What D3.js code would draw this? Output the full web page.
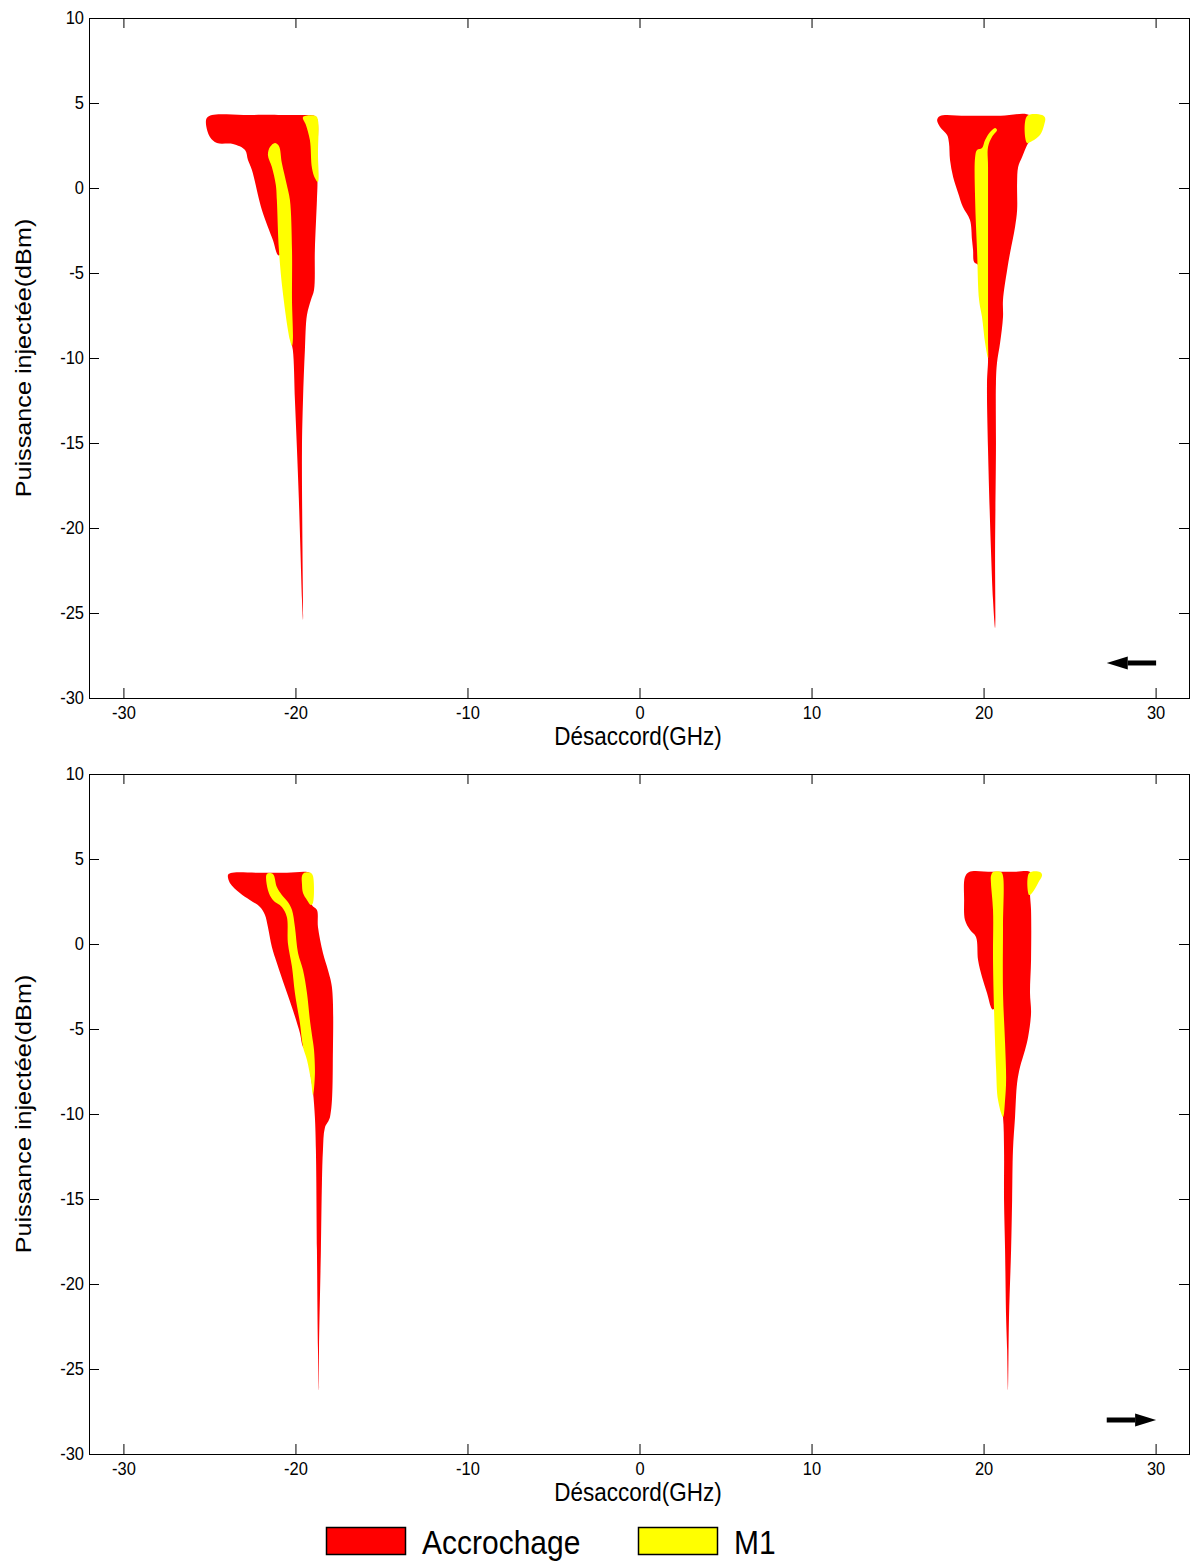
<!DOCTYPE html>
<html><head><meta charset="utf-8">
<script src="https://cdn.jsdelivr.net/npm/d3@7"></script>
<style>body{margin:0;background:#fff}svg{display:block}</style>
</head><body>
<svg id="chart" width="1190" height="1562"></svg>
<script>
// ---------- data ----------
const detuningTicks = [-30, -20, -10, 0, 10, 20, 30];
const powerTicks = [-30, -25, -20, -15, -10, -5, 0, 5, 10];
const xLabel = "Désaccord(GHz)";
const yLabel = "Puissance injectée(dBm)";
const seriesNames = ["Accrochage", "M1"];

// outlines of the regions, [detuning GHz, injected power dBm]
const topLeftAccrochage = [[-25.15,4.12],[-24.85,4.29],[-23.0,4.30],[-21.0,4.30],[-19.74,4.29],[-18.87,4.24],[-18.72,4.0],[-18.72,2.0],[-18.72,0.18],[-18.75,-0.71],[-18.87,-3.65],[-18.92,-6.0],[-19.10,-6.59],[-19.33,-7.47],[-19.45,-9.53],[-19.56,-12.47],[-19.62,-15.41],[-19.59,-21.29],[-19.56,-25.41],[-19.62,-24.24],[-19.71,-21.29],[-19.80,-18.35],[-19.91,-15.41],[-20.03,-12.47],[-20.15,-9.53],[-20.27,-8.94],[-20.56,-6.59],[-20.85,-4.0],[-21.02,-3.94],[-21.31,-3.06],[-21.95,-1.29],[-22.53,1.06],[-22.76,1.65],[-22.93,2.24],[-23.63,2.59],[-24.56,2.65],[-24.97,3.0],[-25.20,3.76]];
const topLeftM1Inner = [[-21.19,2.65],[-20.96,2.47],[-20.79,1.47],[-20.50,0.18],[-20.32,-0.71],[-20.20,-3.65],[-20.20,-6.59],[-20.15,-8.94],[-20.20,-9.29],[-20.32,-8.94],[-20.73,-6.18],[-20.96,-3.65],[-21.08,-0.71],[-21.14,0.18],[-21.37,1.24],[-21.60,1.94],[-21.48,2.41]];
const topLeftM1Outer = [[-19.56,4.18],[-18.81,4.24],[-18.69,4.0],[-18.69,2.0],[-18.69,0.35],[-18.87,0.59],[-19.04,1.18],[-19.16,2.82],[-19.39,3.71]];

const topRightAccrochage = [[17.30,4.0],[17.47,4.24],[19.0,4.25],[21.0,4.25],[22.70,4.24],[22.70,2.82],[22.53,2.53],[22.24,1.82],[22.01,1.24],[21.95,0.29],[21.95,-1.29],[21.83,-2.29],[21.54,-3.82],[21.37,-4.82],[21.13,-6.59],[21.13,-7.59],[20.96,-9.12],[20.78,-10.29],[20.72,-11.47],[20.72,-15.41],[20.67,-21.29],[20.67,-25.88],[20.55,-24.24],[20.43,-21.29],[20.26,-15.41],[20.20,-11.47],[20.26,-10.0],[20.15,-8.35],[19.91,-6.59],[19.68,-4.53],[19.45,-4.35],[19.39,-3.65],[19.33,-3.06],[19.21,-1.88],[18.80,-1.12],[18.52,-0.29],[18.23,0.65],[18.05,1.65],[17.99,2.65],[17.88,3.12],[17.47,3.59]];
const topRightM1Inner = [[20.67,3.53],[20.78,3.41],[20.49,3.0],[20.26,2.41],[20.26,1.24],[20.26,-3.65],[20.26,-8.94],[20.26,-10.0],[20.09,-9.12],[19.91,-7.59],[19.74,-6.59],[19.62,-3.65],[19.51,-0.71],[19.51,1.82],[19.62,2.24],[19.91,2.35],[20.09,2.82],[20.38,3.29]];
const topRightM1Cap = [[22.53,4.24],[23.40,4.29],[23.58,4.12],[23.52,3.71],[23.28,3.12],[22.82,2.76],[22.53,2.65]];

const bottomLeftAccrochage = [[-23.92,4.06],[-23.76,4.18],[-22.0,4.19],[-20.5,4.19],[-19.16,4.18],[-19.04,3.88],[-19.04,2.29],[-18.75,2.0],[-18.69,1.0],[-18.40,-0.53],[-18.11,-1.53],[-17.88,-2.53],[-17.82,-6.24],[-17.99,-10.18],[-18.29,-10.82],[-18.40,-12.12],[-18.46,-14.06],[-18.52,-18.0],[-18.63,-23.88],[-18.63,-26.24],[-18.69,-23.88],[-18.75,-18.0],[-18.81,-12.12],[-18.87,-10.18],[-18.98,-8.71],[-19.16,-7.41],[-19.30,-6.35],[-19.56,-6.06],[-19.74,-5.24],[-20.15,-3.88],[-20.61,-2.53],[-21.08,-1.12],[-21.37,-0.18],[-21.60,1.0],[-21.77,1.71],[-22.06,2.18],[-22.65,2.59],[-23.23,3.0],[-23.81,3.59]];
const bottomLeftM1a = [[-21.66,4.12],[-21.31,4.12],[-21.08,3.35],[-20.79,2.88],[-20.44,2.47],[-20.20,2.0],[-20.03,1.0],[-19.85,-0.53],[-19.56,-1.53],[-19.33,-2.88],[-19.16,-4.47],[-19.04,-5.35],[-18.92,-6.24],[-18.87,-7.71],[-18.98,-8.88],[-19.10,-8.0],[-19.33,-6.82],[-19.56,-6.06],[-19.74,-4.65],[-20.03,-2.88],[-20.20,-1.35],[-20.44,0.06],[-20.50,1.59],[-20.79,2.18],[-21.31,2.59],[-21.60,3.18]];
const bottomLeftM1b = [[-19.62,4.0],[-19.50,4.18],[-19.10,4.18],[-18.98,4.0],[-18.98,2.41],[-19.10,2.29],[-19.33,2.59],[-19.56,3.0],[-19.62,3.53]];

const bottomRightAccrochage = [[18.92,3.94],[19.16,4.24],[20.5,4.25],[21.8,4.25],[22.70,4.24],[22.76,3.76],[22.70,3.0],[22.76,2.0],[22.76,-0.94],[22.70,-2.88],[22.76,-4.06],[22.59,-5.47],[22.41,-6.24],[22.12,-7.24],[21.95,-8.18],[21.83,-10.18],[21.71,-12.12],[21.66,-15.06],[21.60,-18.0],[21.48,-21.94],[21.42,-26.24],[21.37,-23.88],[21.31,-21.94],[21.25,-18.0],[21.19,-15.06],[21.19,-12.12],[21.13,-10.18],[20.90,-8.59],[20.73,-6.24],[20.63,-3.88],[20.49,-3.82],[20.20,-2.88],[19.91,-1.94],[19.68,-0.94],[19.56,0.41],[19.22,0.82],[18.92,1.41],[18.87,2.59]];
const bottomRightM1 = [[20.43,4.0],[20.55,4.24],[21.02,4.24],[21.13,4.0],[21.13,1.0],[21.13,-2.88],[21.25,-5.82],[21.31,-8.0],[21.25,-9.18],[21.13,-10.18],[20.84,-9.18],[20.73,-7.41],[20.67,-5.82],[20.61,-3.88],[20.55,-0.94],[20.55,2.0],[20.43,3.59]];
const bottomRightM1Cap = [[22.65,4.18],[23.28,4.24],[23.40,4.06],[23.17,3.59],[22.82,3.0],[22.65,2.88]];

// sweep direction arrows: [tail, head] in data units
const topArrow = [[30.03, -27.94], [27.16, -27.94]];
const bottomArrow = [[27.16, -28.0], [30.03, -28.0]];

// ---------- drawing ----------
const RED = "#ff0000", YELLOW = "#ffff00";
const FONT = "'Liberation Sans', Arial, Helvetica, sans-serif";
const STRETCH = 1.12;
const svg = d3.select("#chart");
const x = d3.scaleLinear().domain([-32, 32]).range([89, 1190]);

function panel(top, reds, yellows, arrow) {
  const y = d3.scaleLinear().domain([-30, 10]).range([top + 680, top]);
  const g = svg.append("g");
  const outline = d3.line().x(d => x(d[0])).y(d => y(d[1]))
    .curve(d3.curveCatmullRomClosed.alpha(0.5));
  g.selectAll("path.red").data(reds).join("path").attr("class", "red")
    .attr("d", outline).attr("fill", RED);
  g.selectAll("path.yellow").data(yellows).join("path").attr("class", "yellow")
    .attr("d", outline).attr("fill", YELLOW);

  const axB = g.append("g").attr("transform", `translate(0,${top + 680})`)
    .call(d3.axisBottom(x).tickValues(detuningTicks).tickSizeInner(-10).tickSizeOuter(0).tickPadding(7));
  const axT = g.append("g").attr("transform", `translate(0,${top})`)
    .call(d3.axisTop(x).tickValues(detuningTicks).tickSizeInner(-10).tickSizeOuter(0).tickFormat(""));
  const axL = g.append("g").attr("transform", `translate(89,0)`)
    .call(d3.axisLeft(y).tickValues(powerTicks).tickSizeInner(-10).tickSizeOuter(0).tickPadding(5));
  const axR = g.append("g").attr("transform", `translate(1189,0)`)
    .call(d3.axisRight(y).tickValues(powerTicks).tickSizeInner(-10).tickSizeOuter(0).tickFormat(""));
  [axB, axT, axL, axR].forEach(a => {
    a.selectAll("path.domain, line").attr("stroke", "#000");
    a.selectAll("text").attr("font-family", FONT).attr("font-size", 16.5)
      .attr("fill", "#000").attr("transform", `scale(1,${STRETCH})`);
  });
  axB.selectAll(".tick text").text(d => d < 0 ? "-" + Math.abs(d) : d);
  axL.selectAll(".tick text").text(d => d < 0 ? "-" + Math.abs(d) : d);

  // axis titles
  g.append("g").attr("transform", `translate(638,${top + 727}) scale(1,${STRETCH})`)
    .append("text").attr("text-anchor", "middle").attr("font-family", FONT)
    .attr("font-size", 22.5).text(xLabel);
  g.append("g").attr("transform", `translate(31,${top + 340}) rotate(-90) scale(${STRETCH},1)`)
    .append("text").attr("text-anchor", "middle").attr("font-family", FONT)
    .attr("font-size", 22.5).text(yLabel);

  // sweep arrow
  const [tail, head] = arrow;
  const x0 = x(tail[0]), x1 = x(head[0]), ya = y(head[1]);
  const dir = Math.sign(x1 - x0), headLen = 21, headHalf = 6.5;
  g.append("line").attr("x1", x0).attr("x2", x1 - dir * headLen).attr("y1", ya).attr("y2", ya)
    .attr("stroke", "#000").attr("stroke-width", 5);
  g.append("path").attr("fill", "#000")
    .attr("d", `M${x1},${ya}L${x1 - dir * headLen},${ya - headHalf}L${x1 - dir * headLen},${ya + headHalf}Z`);
}

panel(18, [topLeftAccrochage, topRightAccrochage],
  [topLeftM1Inner, topLeftM1Outer, topRightM1Inner, topRightM1Cap], topArrow);
panel(774, [bottomLeftAccrochage, bottomRightAccrochage],
  [bottomLeftM1a, bottomLeftM1b, bottomRightM1, bottomRightM1Cap], bottomArrow);

// legend
const legend = svg.append("g");
const legendItems = [{name: seriesNames[0], color: RED, x: 326}, {name: seriesNames[1], color: YELLOW, x: 638}];
legendItems.forEach(it => {
  legend.append("rect").attr("x", it.x + 0.5).attr("y", 1527.5).attr("width", 79).attr("height", 27)
    .attr("fill", it.color).attr("stroke", "#000").attr("stroke-width", 1.5);
  legend.append("g").attr("transform", `translate(${it.x + 96},1554) scale(1,${STRETCH})`)
    .append("text").attr("font-family", FONT).attr("font-size", 30).text(it.name);
});
</script>
</body></html>
